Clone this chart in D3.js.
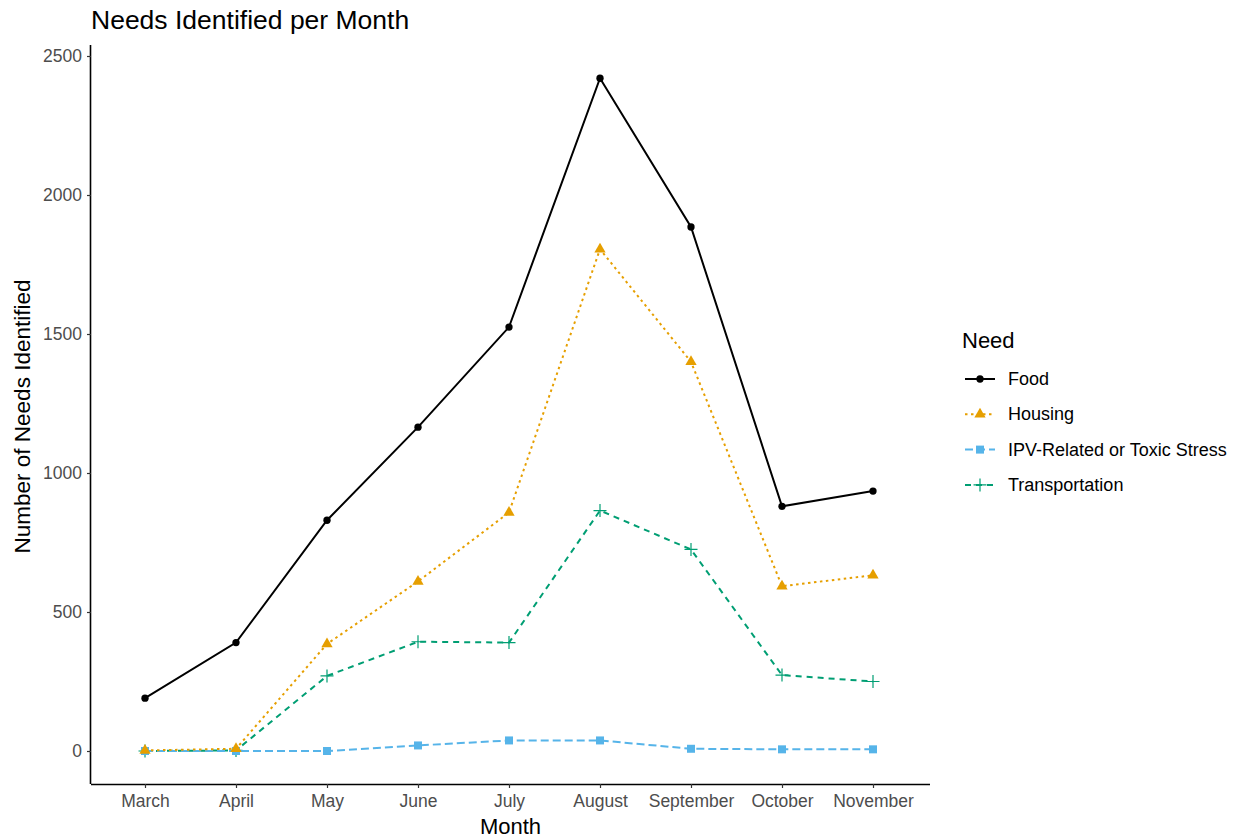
<!DOCTYPE html>
<html><head><meta charset="utf-8">
<script src="https://cdn.jsdelivr.net/npm/d3@7"></script>
<style>body{margin:0;background:#fff;} text{font-family:"Liberation Sans",Arial,sans-serif;}</style>
</head><body>
<svg id="chart" width="1239" height="839"></svg>
<script>
const months = ["March","April","May","June","July","August","September","October","November"];
const food = [190, 390, 830, 1165, 1525, 2420, 1885, 880, 935];
const housing = [2, 8, 385, 610, 858, 1805, 1400, 593, 632];
const ipv = [0, 0, 0, 20, 38, 38, 8, 6, 6];
const transportation = [0, 2, 270, 393, 390, 865, 725, 273, 250];
const yTicks = [0, 500, 1000, 1500, 2000, 2500];

const series = [
  {name:"Food", values:food, color:"#000000", dash:null, shape:"circle"},
  {name:"Housing", values:housing, color:"#E69F00", dash:"2.5,3.5", shape:"triangle"},
  {name:"IPV-Related or Toxic Stress", values:ipv, color:"#56B4E9", dash:"8,4", shape:"square"},
  {name:"Transportation", values:transportation, color:"#009E73", dash:"6,5", shape:"plus"}
];

(function(){
const svg = d3.select("#chart");
const pL = 91, pR = 930, pT = 45, pB = 784;
const x = d3.scalePoint().domain(months).range([145, 873]);
const y = d3.scaleLinear().domain([0, 2500]).range([751, 56]);

const gx = svg.append("g").attr("transform", `translate(0,${pB})`)
  .call(d3.axisBottom(x).tickSize(4).tickPadding(7));
gx.select(".domain").attr("d", `M${pL},0.5H${pR}`).attr("stroke","#000").attr("stroke-width",1.6);
gx.selectAll(".tick line").attr("stroke","#333").attr("stroke-width",1.2);
gx.selectAll(".tick text").attr("font-size",17.5).attr("fill","#4D4D4D").attr("font-family","Liberation Sans, Arial, sans-serif");

const gy = svg.append("g").attr("transform", `translate(${pL},0)`)
  .call(d3.axisLeft(y).tickValues(yTicks).tickFormat(d3.format("d")).tickSize(4).tickPadding(5));
gy.select(".domain").attr("d", `M-0.5,${pT}V${pB}`).attr("stroke","#000").attr("stroke-width",1.6);
gy.selectAll(".tick line").attr("stroke","#333").attr("stroke-width",1.2);
gy.selectAll(".tick text").attr("font-size",17.5).attr("fill","#4D4D4D").attr("font-family","Liberation Sans, Arial, sans-serif");

const line = d3.line().x((d,i)=>x(months[i])).y(d=>y(d));
const sym = {
  circle: d3.symbol().type(d3.symbolCircle).size(42),
  triangle: d3.symbol().type(d3.symbolTriangle).size(55),
  square: d3.symbol().type(d3.symbolSquare).size(64)
};
function drawMarker(g, shape, color, cx, cy){
  if(shape === "plus"){
    g.append("path").attr("d", `M${cx-6.5},${cy}H${cx+6.5}M${cx},${cy-6.5}V${cy+6.5}`)
      .attr("stroke", color).attr("stroke-width",1.2).attr("fill","none");
  } else {
    g.append("path").attr("d", sym[shape]()).attr("transform",`translate(${cx},${cy})`).attr("fill", color);
  }
}
series.slice().reverse().forEach(s=>{
  const g = svg.append("g");
  g.append("path").datum(s.values).attr("d", line).attr("fill","none")
    .attr("stroke", s.color).attr("stroke-width",2).attr("stroke-dasharray", s.dash);
  s.values.forEach((v,i)=>drawMarker(g, s.shape, s.color, x(months[i]), y(v)));
});

svg.append("text").attr("x",91).attr("y",29).attr("font-size",26.5).attr("fill","#000").text("Needs Identified per Month");
svg.append("text").attr("x",(pL+pR)/2).attr("y",834).attr("text-anchor","middle").attr("font-size",22).text("Month");
svg.append("text").attr("transform",`translate(30,${(pT+pB)/2 + 2}) rotate(-90)`).attr("text-anchor","middle").attr("font-size",22.5).text("Number of Needs Identified");

const lg = svg.append("g");
lg.append("text").attr("x",962).attr("y",348).attr("font-size",22).text("Need");
series.forEach((s,i)=>{
  const cy = 379 + i*35.3;
  lg.append("path").attr("d",`M965,${cy}H995`).attr("stroke",s.color).attr("stroke-width",2)
    .attr("stroke-dasharray", s.dash);
  drawMarker(lg, s.shape, s.color, 980, cy);
  lg.append("text").attr("x",1008).attr("y",cy+6).attr("font-size",18).text(s.name);
});
})();
</script>
</body></html>
